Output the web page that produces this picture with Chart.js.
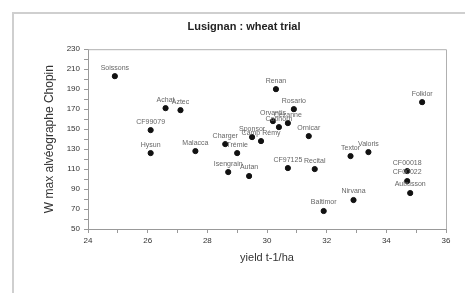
<!DOCTYPE html>
<html>
<head>
<meta charset="utf-8">
<script src="https://cdn.jsdelivr.net/npm/chart.js@4.4.0/dist/chart.umd.min.js"></script>
<style>
  body { margin: 0; background: #fff; }
  #wrap { position: relative; width: 465px; height: 293px; }
  #frame { position: absolute; left: 12px; top: 12px; width: 470px; height: 300px;
           border-left: 2px solid #cfcfcf; border-top: 2px solid #cfcfcf; }
  canvas { position: absolute; left: 0; top: 0; }
</style>
</head>
<body>
<div id="wrap">
  <div id="frame"></div>
  <canvas id="myChart" width="465" height="293"></canvas>
</div>
<script>
// variétés et valeurs
var varieties = ['Soissons', 'CF99079', 'Hysun', 'Achat', 'Aztec', 'Malacca', 'Charger', 'Trémie',
    'Isengrain', 'Autan', 'Sponsor', 'Camp Rémy', 'Renan', 'Orvantis', 'Caphorn', 'Cézanne',
    'Rosario', 'Ornicar', 'CF97125', 'Recital', 'Baltimor', 'Nirvana', 'Textor', 'Valoris',
    'CF00018', 'CF00022', 'Aubusson', 'Folklor'];
var yieldValues = [24.9, 26.1, 26.1, 26.6, 27.1, 27.6, 28.6, 29.0,
    28.7, 29.4, 29.5, 29.8, 30.3, 30.2, 30.4, 30.7,
    30.9, 31.4, 30.7, 31.6, 31.9, 32.9, 32.8, 33.4,
    34.7, 34.7, 34.8, 35.2];
var wValues = [203, 149, 126, 171, 169, 128, 135, 126,
    107, 103, 142, 138, 190, 158, 152, 156,
    170, 143, 111, 110, 68, 79, 123, 127,
    108, 98, 86, 177];
var xTickLabels = [24, 26, 28, 30, 32, 34, 36];
var yTickLabels = [50, 70, 90, 110, 130, 150, 170, 190, 210, 230];

var points = [];
for (var i = 0; i < varieties.length; i++) {
    points.push({ x: yieldValues[i], y: wValues[i], name: varieties[i] });
}

// cadre de la zone du graphique (haut et droite)
var plotFrame = {
    id: 'plotFrame',
    afterDraw: function(chart) {
        var a = chart.chartArea, ctx = chart.ctx;
        ctx.save();
        ctx.strokeStyle = '#b0b0b0';
        ctx.lineWidth = 1;
        ctx.beginPath();
        ctx.moveTo(a.left, a.top + 0.5);
        ctx.lineTo(a.right + 0.5, a.top + 0.5);
        ctx.lineTo(a.right + 0.5, a.bottom);
        ctx.stroke();
        ctx.restore();
    }
};

// étiquettes des points
var pointNames = {
    id: 'pointNames',
    afterDatasetsDraw: function(chart) {
        var ctx = chart.ctx;
        var meta = chart.getDatasetMeta(0);
        ctx.save();
        ctx.font = '7px "Liberation Sans", Arial, sans-serif';
        ctx.fillStyle = '#666';
        ctx.textAlign = 'center';
        ctx.textBaseline = 'bottom';
        meta.data.forEach(function(el, i) {
            ctx.fillText(points[i].name, el.x, el.y - 5);
        });
        ctx.restore();
    }
};

var ctx = document.getElementById('myChart');
var myChart = new Chart(ctx, {
    type: 'scatter',
    data: {
        datasets: [{
            data: points,
            backgroundColor: '#111',
            borderColor: '#111',
            pointRadius: 2.6,
            pointHoverRadius: 2.6
        }]
    },
    options: {
        responsive: false,
        animation: false,
        layout: { padding: { left: 42, right: 19, top: 0, bottom: 24 } },
        plugins: {
            legend: { display: false },
            tooltip: { enabled: false },
            title: {
                display: true,
                text: 'Lusignan : wheat trial',
                color: '#222',
                font: { family: '"Liberation Sans", Arial, sans-serif', size: 11, weight: 'bold' },
                padding: { top: 20, bottom: 16 }
            }
        },
        scales: {
            x: {
                type: 'linear',
                min: 24,
                max: 36,
                afterFit: function(scale) { scale.height = 40; },
                ticks: {
                    stepSize: 1,
                    autoSkip: false,
                    maxRotation: 0,
                    color: '#333',
                    padding: 3,
                    font: { family: '"Liberation Sans", Arial, sans-serif', size: 8 },
                    callback: function(value) {
                        return xTickLabels.indexOf(value) >= 0 ? value : '';
                    }
                },
                grid: { drawOnChartArea: false, tickLength: 4, color: '#999' },
                border: { color: '#999' },
                title: {
                    display: true,
                    text: 'yield t-1/ha',
                    color: '#333',
                    font: { family: '"Liberation Sans", Arial, sans-serif', size: 11 },
                    padding: { top: 4 }
                }
            },
            y: {
                min: 50,
                max: 230,
                afterFit: function(scale) { scale.width = 46; },
                ticks: {
                    stepSize: 10,
                    autoSkip: false,
                    color: '#333',
                    padding: 4,
                    font: { family: '"Liberation Sans", Arial, sans-serif', size: 8 },
                    callback: function(value) {
                        return yTickLabels.indexOf(value) >= 0 ? value : '';
                    }
                },
                grid: { drawOnChartArea: false, tickLength: 4, color: '#999' },
                border: { color: '#999' },
                title: {
                    display: true,
                    text: 'W max alvéographe Chopin',
                    color: '#333',
                    font: { family: '"Liberation Sans", Arial, sans-serif', size: 12 },
                    padding: { top: 0, bottom: 4 }
                }
            }
        }
    },
    plugins: [plotFrame, pointNames]
});
</script>
</body>
</html>
